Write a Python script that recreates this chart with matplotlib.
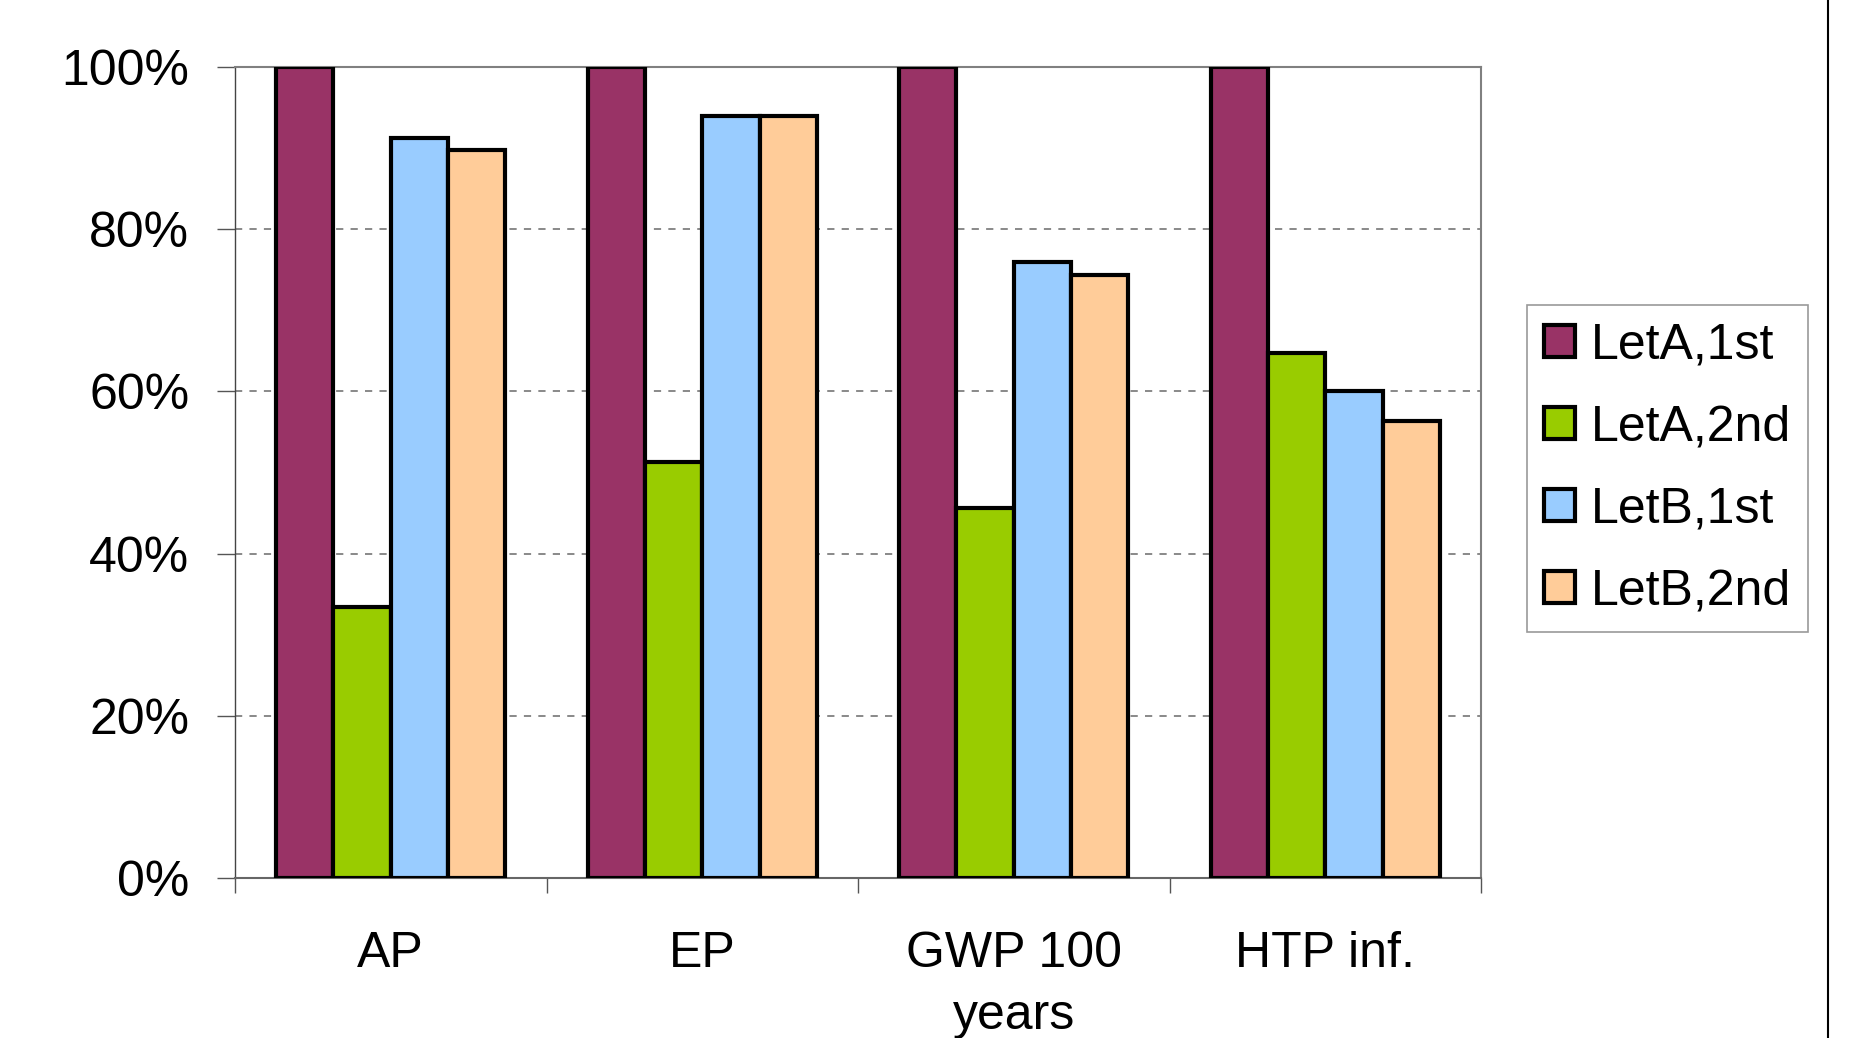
import matplotlib
matplotlib.use('Agg')
import matplotlib.pyplot as plt
from matplotlib.ticker import PercentFormatter, FixedLocator
from matplotlib.lines import Line2D
import numpy as np

categories = ['AP', 'EP', 'GWP 100\nyears', 'HTP inf.']
series_names = ['LetA,1st', 'LetA,2nd', 'LetB,1st', 'LetB,2nd']
leta_1st = [1.00, 1.00, 1.00, 1.00]
leta_2nd = [0.334, 0.513, 0.456, 0.647]
letb_1st = [0.913, 0.939, 0.759, 0.601]
letb_2nd = [0.898, 0.939, 0.743, 0.564]
colors = ['#993366', '#99CC00', '#99CCFF', '#FFCC99']
y_ticks = [0, 0.2, 0.4, 0.6, 0.8, 1.0]

plt.rcParams['font.family'] = ['Liberation Sans', 'DejaVu Sans']
plt.rcParams['font.size'] = 36

fig = plt.figure(figsize=(18.52, 10.38), dpi=100)
ax = fig.add_axes([0.1269, 0.1541, 0.6728, 0.7814])

x = np.arange(len(categories))
w = 0.184
all_series = [leta_1st, leta_2nd, letb_1st, letb_2nd]
for i, vals in enumerate(all_series):
    ax.bar(x + (i - 1.5) * w, vals, width=w, color=colors[i], edgecolor='black',
           linewidth=3, label=series_names[i], zorder=3)

ax.set_xlim(-0.5, 3.5)
ax.set_ylim(0, 1.0)

# y axis
ax.yaxis.set_major_locator(FixedLocator(y_ticks))
ax.yaxis.set_major_formatter(PercentFormatter(1.0, decimals=0))
ax.tick_params(axis='y', direction='out', length=13, width=1, pad=20, color='#555555')
for yv in y_ticks[1:-1]:
    ax.axhline(yv, color='#808080', linestyle=(0, (4, 4)), linewidth=1.3, zorder=1)

# x axis: ticks at category boundaries, labels in the middle
ax.set_xticks(np.arange(-0.5, 4.0, 1.0))
ax.set_xticklabels([])
ax.set_xticks(x, minor=True)
ax.set_xticklabels(categories, minor=True, linespacing=1.45)
ax.tick_params(axis='x', which='major', direction='out', length=11, width=1, color='#555555')
ax.tick_params(axis='x', which='minor', length=0, pad=38)

for side in ['top', 'right']:
    ax.spines[side].set_color('#808080')
    ax.spines[side].set_linewidth(1.5)
ax.spines['left'].set_color('#444444')
ax.spines['left'].set_linewidth(1)
ax.spines['bottom'].set_color('#666666')
ax.spines['bottom'].set_linewidth(1.5)

leg = fig.legend(loc='upper left', bbox_to_anchor=(0.8245, 0.706), frameon=True,
                 fancybox=False, edgecolor='#808080', fontsize=36,
                 handlelength=0.62, handleheight=0.62, handletextpad=0.3,
                 labelspacing=0.72, borderpad=0.35, borderaxespad=0)
leg.get_frame().set_linewidth(1.2)
for h in leg.legend_handles:
    h.set_linewidth(3)

fig.add_artist(Line2D([0.987, 0.987], [0, 1], transform=fig.transFigure, color='black', linewidth=1.5))

fig.savefig('out.png', dpi=100)
